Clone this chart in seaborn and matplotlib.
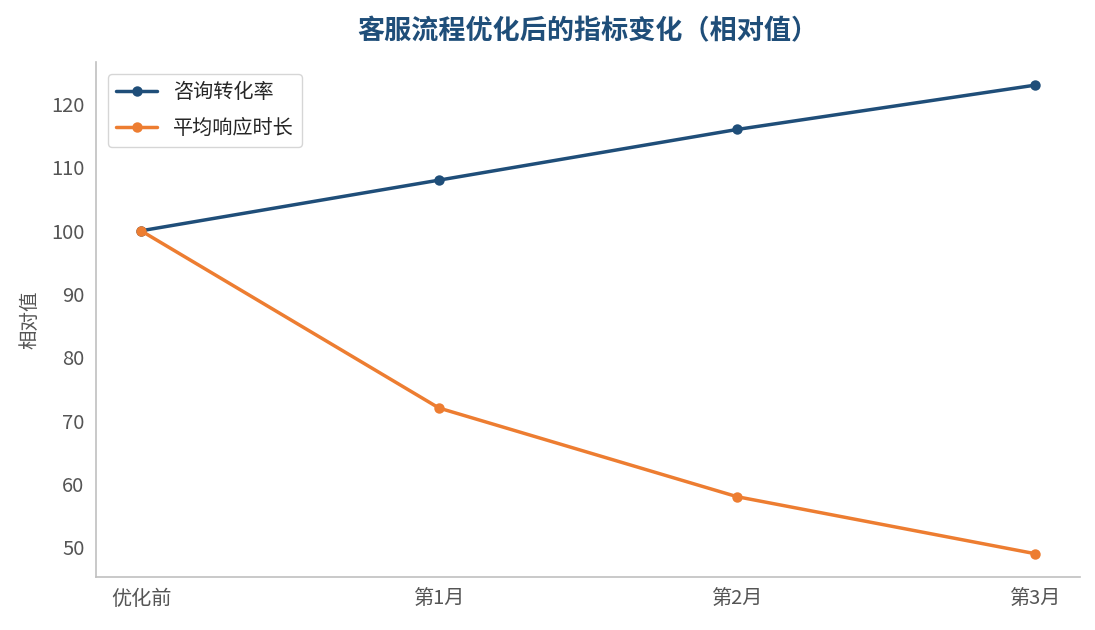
import pandas as pd
import matplotlib.pyplot as plt
import seaborn as sns

# Data
periods = ['优化前', '第1月', '第2月', '第3月']
conversion = [100, 108, 116, 123]
response_time = [100, 72, 58, 49]
series_names = ['咨询转化率', '平均响应时长']
colors = ['#1f4e79', '#ed7d31']

df = pd.DataFrame({
    '阶段': periods * 2,
    '相对值': conversion + response_time,
    '指标': [series_names[0]] * 4 + [series_names[1]] * 4,
})

sns.set_style('white')
plt.rcParams['font.family'] = ['Noto Sans CJK SC', 'DejaVu Sans']

fig, ax = plt.subplots(figsize=(10.95, 6.3), dpi=100)
fig.subplots_adjust(left=0.088, right=0.986, top=0.902, bottom=0.084)

sns.lineplot(data=df, x='阶段', y='相对值', hue='指标', palette=colors,
             marker='o', markersize=7.5, markeredgewidth=0, linewidth=2.5, ax=ax, sort=False)

ax.set_title('客服流程优化后的指标变化（相对值）', fontsize=19.5, fontweight='bold',
             color='#1f4e79', pad=16)
ax.set_xlabel('')
ax.set_ylabel('相对值', fontsize=14, color='#555555', labelpad=8)
ax.tick_params(axis='both', labelsize=14.5, labelcolor='#555555', length=5,
               width=1.2, color='#555555')

for side in ['top', 'right']:
    ax.spines[side].set_visible(False)
for side in ['left', 'bottom']:
    ax.spines[side].set_color('#c0c0c0')
    ax.spines[side].set_linewidth(1.2)

leg = ax.legend(loc='upper left', fontsize=14.5, frameon=True, title=None,
                borderaxespad=0.6, labelspacing=0.75)
leg.get_frame().set_edgecolor('#cccccc')

plt.savefig('out.png', dpi=100)
